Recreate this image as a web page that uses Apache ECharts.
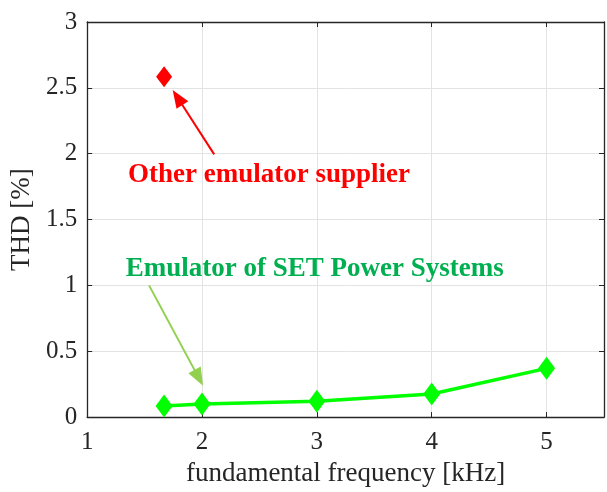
<!DOCTYPE html>
<html><head><meta charset="utf-8">
<script src="https://cdn.jsdelivr.net/npm/echarts@6/dist/echarts.min.js"></script>
<style>html,body{margin:0;padding:0;background:#fff;overflow:hidden}#c{width:607px;height:492px}</style>
</head><body><div id="c"></div>
<script>
// Data
const setFreq = [1.67, 2, 3, 4, 5];
const setTHD = [0.085, 0.1, 0.12, 0.175, 0.37];
const otherFreq = [1.67];
const otherTHD = [2.585];
const xTicks = [1, 2, 3, 4, 5];
const yTicks = [0, 0.5, 1, 1.5, 2, 2.5, 3];
// Annotations (data coordinates; arrow end = centre of arrowhead)
const otherArrow = [[2.106, 1.995], [1.787, 2.427]];
const setArrow = [[1.539, 1.0], [1.972, 0.298]];
const otherLabel = {x: 2.583, y: 1.837, text: 'Other emulator supplier'};
const setLabel = {x: 2.982, y: 1.128, text: 'Emulator of SET Power Systems'};

const FONT = 'Liberation Serif';
const AX = '#262626';
const chart = echarts.init(document.getElementById('c'), null, {renderer: 'canvas', width: 607, height: 492});

function axisBase(show) {
  return {
    axisLine: {show: true, onZero: false, lineStyle: {color: AX, width: 1.3}},
    axisTick: {show: true, inside: true, length: 5, lineStyle: {color: AX, width: 1}},
    splitLine: {show: show, lineStyle: {color: '#e3e3e3', width: 1}}
  };
}

const option = {
  backgroundColor: '#fff',
  animation: false,
  grid: {left: 83, top: 22, width: 523.5, height: 398, containLabel: false},
  xAxis: [
    Object.assign({
      type: 'value', min: 1, max: 5.5, interval: 1, position: 'bottom',
      name: 'fundamental frequency [kHz]', nameLocation: 'middle', nameGap: 42,
      nameTextStyle: {fontFamily: FONT, fontSize: 27, color: AX},
      axisLabel: {fontFamily: FONT, fontSize: 25, color: AX, margin: 13,
        formatter: v => xTicks.includes(v) ? String(v) : ''}
    }, axisBase(true)),
    Object.assign({
      type: 'value', min: 1, max: 5.5, interval: 1, position: 'top',
      axisLabel: {show: false}
    }, axisBase(false))
  ],
  yAxis: [
    Object.assign({
      type: 'value', min: 0, max: 3, interval: 0.5, position: 'left',
      name: 'THD [%]', nameLocation: 'middle', nameGap: 50, nameRotate: 90,
      nameTextStyle: {fontFamily: FONT, fontSize: 27, color: AX},
      axisLabel: {fontFamily: FONT, fontSize: 25, color: AX, margin: 10,
        formatter: v => yTicks.includes(v) ? String(v) : ''}
    }, axisBase(true)),
    Object.assign({
      type: 'value', min: 0, max: 3, interval: 0.5, position: 'right',
      axisLabel: {show: false}
    }, axisBase(false))
  ],
  series: [
    {
      type: 'line', name: 'SET',
      data: setFreq.map((x, i) => [x, setTHD[i]]),
      symbol: 'diamond', symbolSize: [17, 23],
      lineStyle: {color: '#00ff00', width: 3.5},
      itemStyle: {color: '#00ff00', opacity: 1},
      z: 5,
      markLine: {
        silent: true, symbol: ['none', 'triangle'], symbolSize: [14, 18],
        lineStyle: {color: '#92d050', width: 2, type: 'solid'},
        label: {show: false},
        data: [[{coord: setArrow[0]}, {coord: setArrow[1]}]]
      },
      markPoint: {
        silent: true, symbol: 'rect', symbolSize: 1, itemStyle: {color: 'rgba(0,0,0,0)'},
        label: {show: true, position: 'inside', formatter: setLabel.text,
          fontFamily: FONT, fontSize: 27, fontWeight: 'bold', color: '#00b050'},
        data: [{coord: [setLabel.x, setLabel.y]}]
      }
    },
    {
      type: 'scatter', name: 'Other',
      data: otherFreq.map((x, i) => [x, otherTHD[i]]),
      symbol: 'diamond', symbolSize: [16, 21],
      itemStyle: {color: '#ff0000', opacity: 1},
      z: 5,
      markLine: {
        silent: true, symbol: ['none', 'triangle'], symbolSize: [14, 18],
        lineStyle: {color: '#ff0000', width: 2, type: 'solid'},
        label: {show: false},
        data: [[{coord: otherArrow[0]}, {coord: otherArrow[1]}]]
      },
      markPoint: {
        silent: true, symbol: 'rect', symbolSize: 1, itemStyle: {color: 'rgba(0,0,0,0)'},
        label: {show: true, position: 'inside', formatter: otherLabel.text,
          fontFamily: FONT, fontSize: 27, fontWeight: 'bold', color: '#ff0000'},
        data: [{coord: [otherLabel.x, otherLabel.y]}]
      }
    }
  ]
};
chart.setOption(option);
</script>
</body></html>
